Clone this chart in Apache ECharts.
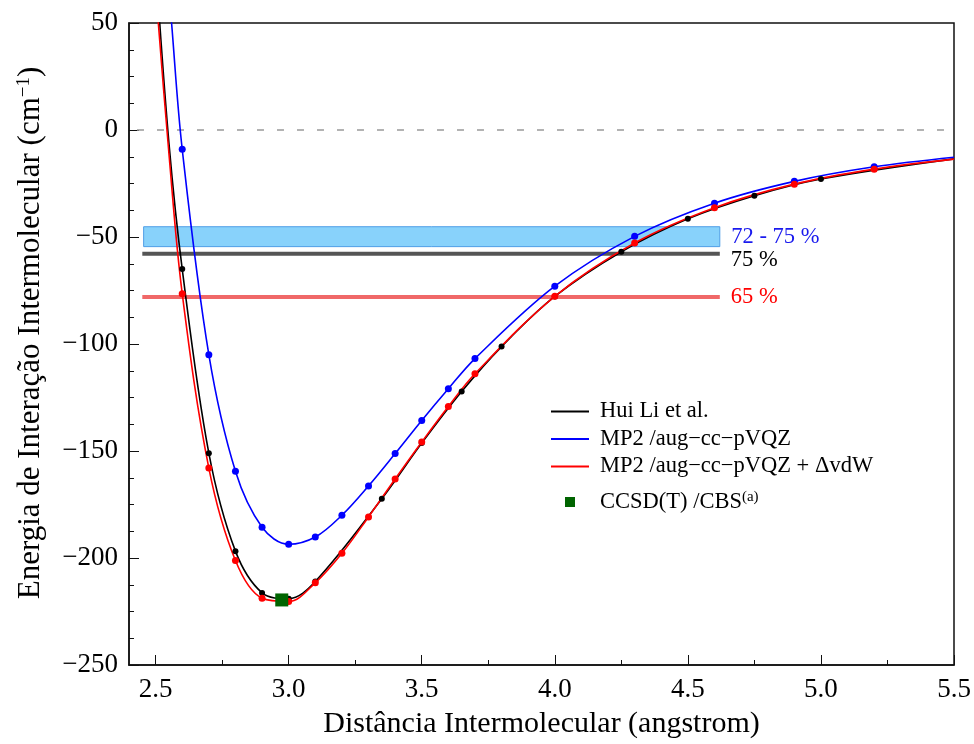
<!DOCTYPE html>
<html><head><meta charset="utf-8">
<script src="https://cdn.jsdelivr.net/npm/echarts@6/dist/echarts.min.js"></script>
<style>html,body{margin:0;padding:0;background:#fff}#c{width:974px;height:744px}</style>
</head><body><div id="c"></div>
<script>
// ---- tick values ----
const xMajorTicks = [2.5, 3.0, 3.5, 4.0, 4.5, 5.0, 5.5];
const xMinorTicks = [2.75, 3.25, 3.75, 4.25, 4.75, 5.25];

// ---- data: [distance (Å), energy (cm^-1)] ----
const huiLiPoints = [[2.6,-65],[2.7,-151],[2.8,-196.8],[2.9,-216.3],[3.0,-219],[3.1,-211],[3.35,-172.3],[3.5,-146.3],[3.65,-122.2],[3.8,-101.2],[4.0,-77.8],[4.25,-56.9],[4.5,-41.5],[4.75,-30.7],[5.0,-22.9]];
const huiLiCurveEnds = [[2.5,78],[2.55,-6],[5.5,-13.5]];

const mp2Points = [[2.6,-9],[2.7,-105],[2.8,-159.5],[2.9,-185.6],[3.0,-193.6],[3.1,-190.2],[3.2,-180],[3.3,-166.3],[3.4,-151.2],[3.5,-135.7],[3.6,-120.9],[3.7,-106.8],[4.0,-73],[4.3,-49.7],[4.6,-34.2],[4.9,-24],[5.2,-17.2]];
const mp2CurveEnds = [[2.54,82],[2.56,50],[5.5,-12.7]];

const mp2vdwPoints = [[2.6,-76.5],[2.7,-158],[2.8,-201.2],[2.9,-218.8],[3.0,-220.3],[3.1,-211.6],[3.2,-197.8],[3.3,-180.8],[3.4,-163.1],[3.5,-145.8],[3.6,-129.2],[3.7,-113.9],[4.0,-77.7],[4.3,-52.8],[4.6,-36.3],[4.9,-25.3],[5.2,-18.3]];
const mp2vdwCurveEnds = [[2.5,66],[2.55,-11],[5.5,-13.6]];

const ccsdPoint = [[2.974,-219.6]];

const zeroLine = [[2.43,0],[5.49,0]];
const bandRange = [[2.455,-45.2],[4.62,-54.5]];   // 72 - 75 %
const line75 = [[2.45,-57.8],[4.62,-57.8]];       // 75 %
const line65 = [[2.45,-78],[4.62,-78]];           // 65 %

const names = ['Hui Li et al.', 'MP2 /aug\u2212cc\u2212pVQZ', 'MP2 /aug\u2212cc\u2212pVQZ + \u0394vdW', 'CCSD(T) /CBS'];

function buildCurve(points, ends){
  const arr = points.map(p => ({value: p}))
    .concat(ends.map(p => ({value: p, symbol: 'none'})));
  arr.sort((a,b) => a.value[0] - b.value[0]);
  return arr;
}

const FONT = 'Liberation Serif';
const chart = echarts.init(document.getElementById('c'));

function curveSeries(name, color, pts, ends, size){
  return {
    name: name, type: 'line', data: buildCurve(pts, ends),
    smooth: 0.35,
    symbol: 'circle', symbolSize: size, showSymbol: true,
    lineStyle: {color: color, width: 1.6},
    itemStyle: {color: color, opacity: 1},
    emphasis: {disabled: true}, animation: false, z: 5
  };
}

chart.setOption({
  animation: false,
  grid: {left: 129, right: 20, top: 23, bottom: 78, show: true, borderColor: '#111', borderWidth: 1.5, backgroundColor: 'transparent'},
  xAxis: [{
    type: 'value', min: 2.4, max: 5.5, position: 'bottom',
    name: 'Dist\u00e2ncia Intermolecular (angstrom)', nameLocation: 'middle', nameGap: 44,
    nameTextStyle: {fontFamily: FONT, fontSize: 30, color: '#000'},
    axisLine: {show: true, onZero: false, lineStyle: {color: '#111', width: 1.5}},
    axisTick: {show: true, inside: true, length: 10, customValues: xMajorTicks, lineStyle: {color: '#111', width: 1}},
    axisLabel: {customValues: xMajorTicks, formatter: v => v.toFixed(1), fontFamily: FONT, fontSize: 27, color: '#000', margin: 11},
    splitLine: {show: false}
  },{
    type: 'value', min: 2.4, max: 5.5, position: 'bottom', offset: 0,
    axisLine: {show: false, onZero: false},
    axisTick: {show: true, inside: true, length: 5, customValues: xMinorTicks, lineStyle: {color: '#111', width: 1}},
    axisLabel: {show: false},
    splitLine: {show: false}
  }],
  yAxis: {
    type: 'value', min: -250, max: 50, interval: 50,
    name: '{a|Energia de Intera\u00e7\u00e3o Intermolecular (cm}{s|\u22121}{a|)}',
    nameLocation: 'middle', nameGap: 83,
    nameTextStyle: {fontFamily: FONT, color: '#000', padding: [0,0,0,22], rich: {
      a: {fontFamily: FONT, fontSize: 31, color: '#000'},
      s: {fontFamily: FONT, fontSize: 19, color: '#000', verticalAlign: 'top', padding: [0,0,12,0]}
    }},
    axisLine: {show: true, onZero: false, lineStyle: {color: '#111', width: 1.5}},
    axisTick: {show: true, inside: true, length: 10, lineStyle: {color: '#111', width: 1}},
    minorTick: {show: true, splitNumber: 4, length: 5, lineStyle: {color: '#111', width: 1}},
    axisLabel: {formatter: v => v < 0 ? '\u2212' + Math.abs(v) : String(v), fontFamily: FONT, fontSize: 27, color: '#000', margin: 11},
    splitLine: {show: false}
  },
  legend: [{
    orient: 'vertical', left: 551, top: 400, padding: 0, itemWidth: 38, itemHeight: 22, itemGap: 4.5,
    data: [
      {name: names[0], icon: 'path://M0,0h38v2h-38z'},
      {name: names[1], icon: 'path://M0,0h38v2h-38z'},
      {name: names[2], icon: 'path://M0,0h38v2h-38z'}
    ],
    textStyle: {fontFamily: FONT, fontSize: 22.5, lineHeight: 22, color: '#000', padding: [0,0,0,6]},
    selectedMode: false
  },{
    orient: 'vertical', left: 565, top: 490, padding: 0, itemWidth: 10, itemHeight: 10,
    data: [{name: names[3], icon: 'rect'}],
    formatter: () => '{a|CCSD(T) /CBS}{s|(a)}',
    textStyle: {fontFamily: FONT, fontSize: 22.5, color: '#000', padding: [0,0,0,20], rich: {
      a: {fontFamily: FONT, fontSize: 22.5, color: '#000'},
      s: {fontFamily: FONT, fontSize: 15, color: '#000', verticalAlign: 'top', padding: [0,0,9,0]}
    }},
    selectedMode: false
  }],
  series: [
    {
      name: 'line75', type: 'line', data: line75, showSymbol: false, symbol: 'none',
      lineStyle: {color: '#555', width: 4}, z: 2, silent: true,
      endLabel: {show: true, formatter: '75 %', fontFamily: FONT, fontSize: 22.5, color: '#000', distance: 11, offset: [0, 6]},
      markArea: {
        silent: true,
        itemStyle: {color: '#88d2fb', borderColor: '#4f9ee6', borderWidth: 1},
        label: {show: true, position: 'right', distance: 11, formatter: '72 - 75 %', fontFamily: FONT, fontSize: 22.5, color: '#1a1aee'},
        data: [[{coord: bandRange[0]}, {coord: bandRange[1]}]]
      }
    },
    {
      name: 'line65', type: 'line', data: line65, showSymbol: false, symbol: 'none',
      lineStyle: {color: '#f06868', width: 4}, z: 2, silent: true,
      endLabel: {show: true, formatter: '65 %', fontFamily: FONT, fontSize: 22.5, color: '#ff0000', distance: 11}
    },
    {
      name: 'zero', type: 'line', data: zeroLine, showSymbol: false, symbol: 'none',
      lineStyle: {color: '#999', width: 1.5, type: [7, 13]}, z: 1, silent: true
    },
    curveSeries(names[0], '#000000', huiLiPoints, huiLiCurveEnds, 6),
    curveSeries(names[1], '#0000ff', mp2Points, mp2CurveEnds, 7),
    curveSeries(names[2], '#ff0000', mp2vdwPoints, mp2vdwCurveEnds, 7),
    {
      name: names[3], type: 'scatter', data: ccsdPoint, symbol: 'rect', symbolSize: 13,
      itemStyle: {color: '#006400', opacity: 1}, z: 10, emphasis: {disabled: true}
    }
  ]
});
</script></body></html>
